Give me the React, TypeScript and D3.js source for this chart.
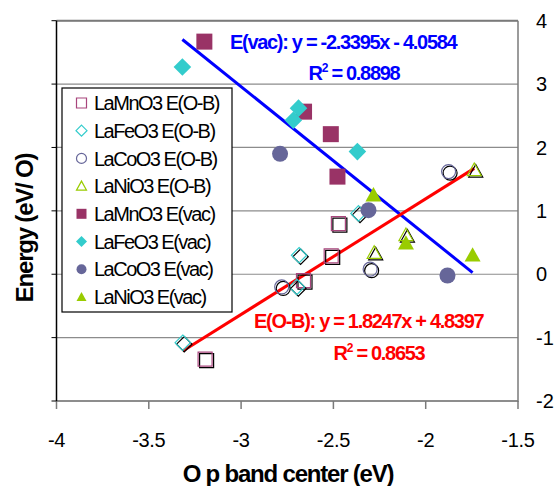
import * as d3 from 'd3';

const W = 560;
const H = 486;
const M = { left: 56.5, right: 42, top: 20.7, bottom: 85 };

const xTicks = [-4, -3.5, -3, -2.5, -2, -1.5];
const yTicks = [-2, -1, 0, 1, 2, 3, 4];

// E(O-B) series (hollow markers)
const mnOB = [[-3.195, -1.34], [-2.473, 0.8], [-2.512, 0.29], [-2.662, -0.1]];
const feOB = [[-3.316, -1.08], [-2.686, 0.3], [-2.364, 0.96], [-2.698, -0.2]];
const coOB = [[-2.78, -0.2], [-2.301, 0.08], [-1.876, 1.62]];
const niOB = [[-2.279, 0.34], [-2.107, 0.62], [-1.737, 1.645]];

// E(vac) series (filled markers)
const mnVac = [[-3.199, 3.67], [-2.659, 2.565], [-2.514, 2.21], [-2.478, 1.54]];
const feVac = [[-3.318, 3.27], [-2.689, 2.62], [-2.717, 2.43], [-2.37, 1.935]];
const coVac = [[-2.789, 1.9], [-2.31, 1.01], [-1.882, -0.02]];
const niVac = [[-2.283, 1.25], [-2.107, 0.49], [-1.746, 0.3]];

const fitVac = { slope: -2.3395, intercept: -4.0584, r2: '0.8898', label: 'E(vac): y = -2.3395x - 4.0584' };
const fitOB = { slope: 1.8247, intercept: 4.8397, r2: '0.8653', label: 'E(O-B): y = 1.8247x + 4.8397' };

const FONT = '"Liberation Sans", Arial, sans-serif';

type Shape = 'square' | 'diamond' | 'circle' | 'triangle';

function shapePath(shape: Shape, s: number) {
  const h = s / 2;
  if (shape === 'square') return `M${-h},${-h}H${h}V${h}H${-h}Z`;
  if (shape === 'diamond') return `M0,${-h * 1.1}L${h * 1.1},0L0,${h * 1.1}L${-h * 1.1},0Z`;
  if (shape === 'triangle') return `M0,${-h}L${h},${h * 0.8}L${-h},${h * 0.8}Z`;
  const p = d3.path();
  p.arc(0, 0, h, 0, Math.PI * 2);
  return p.toString();
}

const series = [
  { name: 'LaMnO3 E(O-B)', data: mnOB, shape: 'square' as Shape, color: '#a8457c', filled: false },
  { name: 'LaFeO3 E(O-B)', data: feOB, shape: 'diamond' as Shape, color: '#33cccc', filled: false },
  { name: 'LaCoO3 E(O-B)', data: coOB, shape: 'circle' as Shape, color: '#666699', filled: false },
  { name: 'LaNiO3 E(O-B)', data: niOB, shape: 'triangle' as Shape, color: '#99cc00', filled: false },
  { name: 'LaMnO3 E(vac)', data: mnVac, shape: 'square' as Shape, color: '#993366', filled: true },
  { name: 'LaFeO3 E(vac)', data: feVac, shape: 'diamond' as Shape, color: '#33cccc', filled: true },
  { name: 'LaCoO3 E(vac)', data: coVac, shape: 'circle' as Shape, color: '#666699', filled: true },
  { name: 'LaNiO3 E(vac)', data: niVac, shape: 'triangle' as Shape, color: '#99cc00', filled: true },
];

export default function App() {
  const x = d3.scaleLinear().domain([-4, -1.5]).range([M.left, W - M.right]);
  const y = d3.scaleLinear().domain([-2, 4]).range([H - M.bottom, M.top]);

  const vacAll = [...mnVac, ...feVac, ...coVac, ...niVac];
  const obAll = [...mnOB, ...feOB, ...coOB, ...niOB];
  const trend = (pts: number[][], f: { slope: number; intercept: number }) => {
    const [x0, x1] = d3.extent(pts, (d) => d[0]) as [number, number];
    return d3.line<number>()
      .x((v) => x(v))
      .y((v) => y(f.slope * v + f.intercept))([x0, x1]) as string;
  };

  const x0 = M.left;
  const x1 = W - M.right;
  const y0 = H - M.bottom;
  const y1 = M.top;

  const legendX = 62;
  const legendY = 88;
  const rowH = 27.7;

  return (
    <svg width={W} height={H} style={{ position: 'absolute', left: 0, top: 0, background: '#fff' }} fontFamily={FONT}>
      {/* gridlines */}
      {yTicks.map((t) => (
        <line key={`g${t}`} x1={x0} x2={x1} y1={y(t)} y2={y(t)} stroke="#8c8c8c" strokeWidth={1.2} />
      ))}
      <line x1={x0} x2={x1} y1={y1} y2={y1} stroke="#7a7a7a" strokeWidth={2} />
      <line x1={x1} x2={x1} y1={y1} y2={y0 + 1} stroke="#7a7a7a" strokeWidth={1.5} />
      <line x1={x0} x2={x1} y1={y0} y2={y0} stroke="#7a7a7a" strokeWidth={1.5} />
      {xTicks.map((t) => (
        <line key={`xt${t}`} x1={x(t)} x2={x(t)} y1={y0} y2={y0 + 8} stroke="#7a7a7a" strokeWidth={1.5} />
      ))}
      <line x1={x0} x2={x0} y1={y1} y2={y0} stroke="#000" strokeWidth={1.5} />
      {yTicks.map((t) => (
        <line key={`yt${t}`} x1={x0 - 5} x2={x0} y1={y(t)} y2={y(t)} stroke="#000" strokeWidth={1} />
      ))}

      {/* tick labels */}
      {xTicks.map((t) => (
        <text key={`xl${t}`} x={x(t)} y={y0 + 46} textAnchor="middle" fontSize={20} letterSpacing={-0.3}>
          {t}
        </text>
      ))}
      {yTicks.map((t) => (
        <text key={`yl${t}`} x={536} y={y(t)} dy="0.36em" fontSize={20}>
          {t}
        </text>
      ))}

      {/* trend lines */}
      <path d={trend(vacAll, fitVac)} stroke="#0000ff" strokeWidth={3} fill="none" />
      <path d={trend(obAll, fitOB)} stroke="#ff0000" strokeWidth={3} fill="none" />

      {/* markers */}
      {series.map((s) =>
        s.data.map((d, i) => (
          <g key={`${s.name}-${i}`} transform={`translate(${x(d[0])},${y(d[1])})`}>
            {s.filled ? (
              <path d={shapePath(s.shape, 16)} fill={s.color} />
            ) : (
              <>
                <path d={shapePath(s.shape, 14)} transform="translate(1.5,1.5)" fill="none" stroke="#000" strokeWidth={1.2} />
                <path d={shapePath(s.shape, 14)} fill="none" stroke={s.color} strokeWidth={1.2} />
              </>
            )}
          </g>
        ))
      )}

      {/* regression annotations */}
      <g fontWeight="bold" fontSize={20} letterSpacing={-1.3}>
        <text x={230} y={49} fill="#0000ff">{fitVac.label}</text>
        <text x={354} y={80} fill="#0000ff" textAnchor="middle">
          R<tspan dy={-8} fontSize={12}>2</tspan><tspan dy={8}> = {fitVac.r2}</tspan>
        </text>
        <text x={254} y={328} fill="#ff0000">{fitOB.label}</text>
        <text x={379} y={360} fill="#ff0000" textAnchor="middle">
          R<tspan dy={-8} fontSize={12}>2</tspan><tspan dy={8}> = {fitOB.r2}</tspan>
        </text>
      </g>

      {/* legend */}
      <rect x={legendX} y={legendY} width={170} height={224} fill="#fff" stroke="#000" strokeWidth={1.2} />
      {series.map((s, i) => {
        const cy = 103 + i * rowH;
        return (
          <g key={`lg${s.name}`}>
            <path
              d={shapePath(s.shape, 10)}
              transform={`translate(81.5,${cy})`}
              fill={s.filled ? s.color : 'none'}
              stroke={s.filled ? 'none' : s.color}
              strokeWidth={1.2}
            />
            <text x={94} y={cy} dy="0.36em" fontSize={20} letterSpacing={-1.5}>
              {s.name}
            </text>
          </g>
        );
      })}

      {/* axis titles */}
      <text x={288} y={482} textAnchor="middle" fontWeight="bold" fontSize={24} letterSpacing={-1.2}>
        O p band center (eV)
      </text>
      <text
        transform={`translate(33,${228}) rotate(-90)`}
        textAnchor="middle"
        fontWeight="bold"
        fontSize={24}
        letterSpacing={-1.2}
      >
        Energy (eV/ O)
      </text>
    </svg>
  );
}
